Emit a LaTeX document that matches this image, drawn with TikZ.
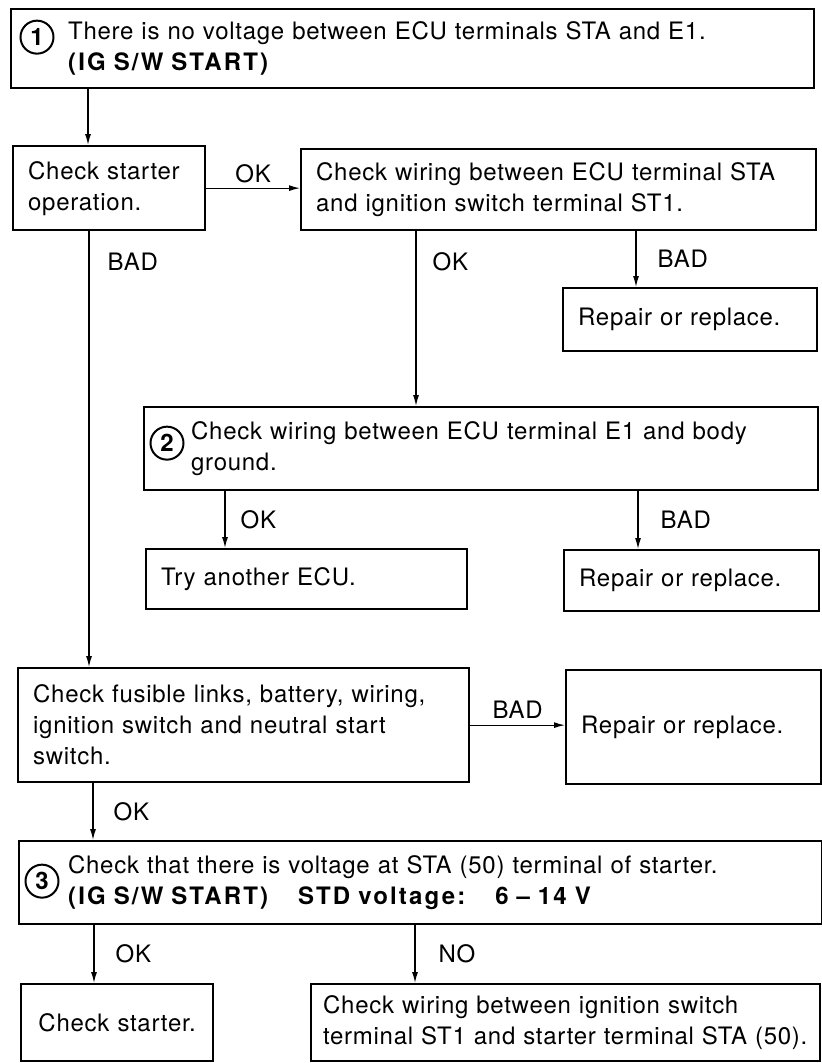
\documentclass[tikz,border=0pt]{standalone}
\usepackage{fontspec}
\setmainfont{TeX Gyre Heros}[LetterSpace=3, BoldFeatures={LetterSpace=9}]
\usetikzlibrary{arrows.meta,positioning}

\begin{document}
\begin{tikzpicture}[x=1pt, y=-1pt,
        box/.style={rectangle, draw, line width=2.3pt, anchor=north west, inner xsep=15pt, inner ysep=2pt, align=left, font=\fontsize{24}{31}\selectfont},
        num/.style={circle, draw, line width=2pt, inner sep=0pt, minimum size=33pt, font=\fontsize{24}{24}\selectfont\bfseries},
        lbl/.style={inner sep=0pt, font=\fontsize{24}{24}\selectfont},
        arr/.style={line width=1.3pt, -{Latex[length=11pt,width=6pt]}}]

    \useasboundingbox (0,0) rectangle (822,1063);

    \node[box, minimum width=803pt, text width=773pt, minimum height=79pt] (s1) at (10,8)
        {\hspace*{42pt}There is no voltage between ECU terminals STA and E1.\\
         \hspace*{42pt}\textbf{(IG S/W START)}};
    \node[num] (n1) at ([xshift=27pt,yshift=11.5pt]s1.west) {1};

    \node[box, minimum width=192pt, text width=162pt, minimum height=84pt] (starter) at (12,145)
        {Check starter\\operation.};
    \node[box, minimum width=515pt, text width=485pt, minimum height=81pt] (wiresta) at (300,148)
        {Check wiring between ECU terminal STA\\and ignition switch terminal ST1.};
    \node[box, minimum width=254pt, text width=224pt, minimum height=63pt] (repair1) at (562,287)
        {Repair or replace.};

    \node[box, minimum width=674pt, text width=644pt, minimum height=83pt] (b2) at (143,406)
        {\hspace*{32pt}Check wiring between ECU terminal E1 and body\\
         \hspace*{32pt}ground.};
    \node[num] (n2) at ([xshift=24pt,yshift=5.5pt]b2.west) {2};
    \node[box, minimum width=321pt, text width=291pt, minimum height=60pt] (try) at (145,548)
        {Try another ECU.};
    \node[box, minimum width=255pt, text width=225pt, minimum height=61pt] (repair2) at (563,549)
        {Repair or replace.};

    \node[box, minimum width=451pt, text width=421pt, minimum height=114pt] (fuse) at (17,667)
        {Check fusible links, battery, wiring,\\ignition switch and neutral start\\switch.};
    \node[box, minimum width=255pt, text width=225pt, minimum height=114pt] (repair3) at (565,669)
        {Repair or replace.};

    \node[box, minimum width=803pt, text width=773pt, minimum height=83pt] (s3) at (18,840)
        {\hspace*{34pt}Check that there is voltage at STA (50) terminal of starter.\\
         \hspace*{34pt}\textbf{(IG S/W START)\hspace{30pt}STD voltage:\hspace{30pt}6 -- 14 V}};
    \node[num] (n3) at ([xshift=24pt,yshift=1.5pt]s3.west) {3};
    \node[box, minimum width=192pt, text width=162pt, minimum height=77pt, align=center] (chk) at (20,983)
        {Check starter.};
    \node[box, minimum width=509pt, text width=485pt, minimum height=77pt, inner xsep=12pt] (last) at (310,983)
        {Check wiring between ignition switch\\terminal ST1 and starter terminal STA (50).};

    \draw[arr] ([xshift=78pt]s1.south west) coordinate (a1) -- (a1 |- starter.north);
    \draw[arr] (starter.east) -- (starter.east -| wiresta.west) node[lbl, midway, above=5pt] {OK};
    \draw[arr] ([xshift=77pt]starter.south west) coordinate (a2) -- (a2 |- fuse.north) node[lbl, pos=0.07, right=18pt] {BAD};
    \draw[arr] ([xshift=116pt]wiresta.south west) coordinate (a3) -- (a3 |- b2.north) node[lbl, pos=0.175, right=16pt] {OK};
    \draw[arr] ([xshift=336pt]wiresta.south west) coordinate (a4) -- (a4 |- repair1.north) node[lbl, midway, right=21pt] {BAD};
    \draw[arr] ([xshift=82pt]b2.south west) coordinate (a5) -- (a5 |- try.north) node[lbl, midway, right=15pt] {OK};
    \draw[arr] ([xshift=495pt]b2.south west) coordinate (a6) -- (a6 |- repair2.north) node[lbl, midway, right=22pt] {BAD};
    \draw[arr] (fuse.east) -- (fuse.east -| repair3.west) node[lbl, midway, above=6pt] {BAD};
    \draw[arr] ([xshift=76pt]fuse.south west) coordinate (a7) -- (a7 |- s3.north) node[lbl, midway, right=20pt] {OK};
    \draw[arr] ([xshift=76pt]s3.south west) coordinate (a8) -- (a8 |- chk.north) node[lbl, midway, right=21pt] {OK};
    \draw[arr] ([xshift=397pt]s3.south west) coordinate (a9) -- (a9 |- last.north) node[lbl, midway, right=23pt] {NO};

\end{tikzpicture}
\end{document}
